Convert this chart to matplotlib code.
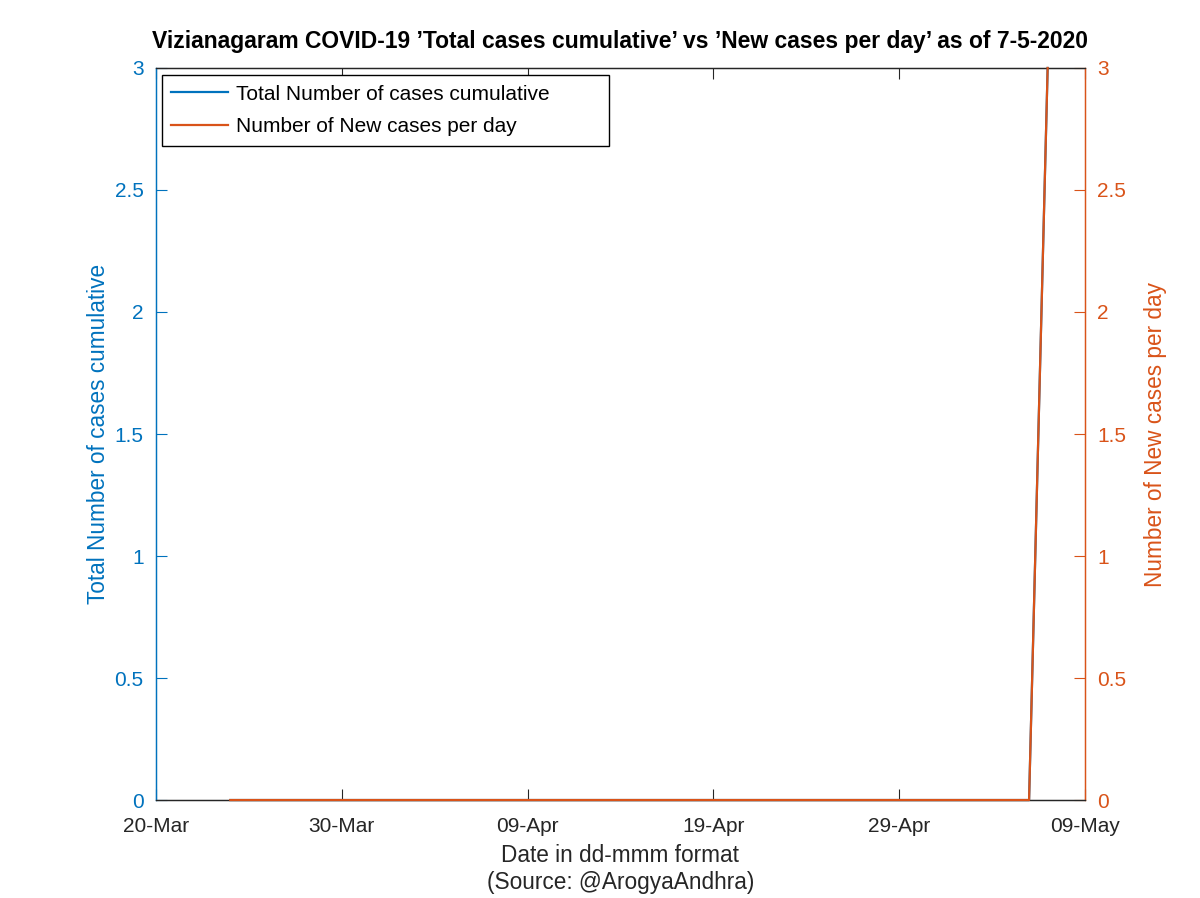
import datetime as dt

import matplotlib
matplotlib.use("Agg")
from matplotlib import pyplot as plt
import matplotlib.dates as mdates

plt.rcParams['font.family'] = ['Liberation Sans', 'DejaVu Sans']

# Data
start = dt.date(2020, 3, 24)
dates = [start + dt.timedelta(days=i) for i in range(45)]  # 24-Mar .. 07-May
new_cases = [0] * 44 + [3]
total_cases = [0] * 44 + [3]

blue = '#0072BD'
orange = '#D95319'
dark = '#262626'

fig = plt.figure(figsize=(12, 8.98), dpi=100)
ax = fig.add_axes([0.13, 0.1091, 0.774, 0.8152])
ax2 = ax.twinx()

l1, = ax.plot(dates, total_cases, color=blue, lw=1.6, clip_on=False, zorder=3)
l2, = ax2.plot(dates, new_cases, color=orange, lw=1.6, clip_on=False, zorder=3)

ax.set_xlim(dt.date(2020, 3, 20), dt.date(2020, 5, 9))
ticks = [dt.date(2020, 3, 20) + dt.timedelta(days=10 * i) for i in range(6)]
ax.set_xticks(ticks)
ax.xaxis.set_major_formatter(mdates.DateFormatter('%d-%b'))

ax.set_ylim(0, 3)
ax2.set_ylim(0, 3)
yt = [0, 0.5, 1, 1.5, 2, 2.5, 3]
ylabels = ['0', '0.5', '1', '1.5', '2', '2.5', '3']
ax.set_yticks(yt)
ax2.set_yticks(yt)
ax.set_yticklabels(ylabels)
ax2.set_yticklabels(ylabels)

fs = 15
ax.tick_params(axis='x', direction='in', top=True, length=8, width=0.8,
               colors=dark, labelsize=fs, pad=12)
ax.tick_params(axis='y', direction='in', length=8, width=0.8,
               colors=blue, labelsize=fs, pad=9)
ax2.tick_params(axis='y', direction='in', length=8, width=0.8,
                colors=orange, labelsize=fs, pad=9)

for a in (ax, ax2):
    a.spines['top'].set_color(dark)
    a.spines['bottom'].set_color(dark)
    a.spines['left'].set_color(blue)
    a.spines['right'].set_color(orange)
    for s in a.spines.values():
        s.set_linewidth(0.9)

ax.set_ylabel('Total Number of cases cumulative', color=blue, fontsize=16.3, labelpad=3)
ax2.set_ylabel('Number of New cases per day', color=orange, fontsize=16.3, labelpad=13)
ax.set_xlabel('Date in dd-mmm format\n(Source: @ArogyaAndhra)', color=dark,
              fontsize=16.3, labelpad=6, linespacing=1.2)
ax.set_title('Vizianagaram COVID-19 ’Total cases cumulative’ vs ’New cases per day’ as of 7-5-2020',
             fontsize=16.5, fontweight='bold', color='black', pad=14.5)

leg = ax2.legend([l1, l2], ['Total Number of cases cumulative', 'Number of New cases per day'],
                 loc='upper left', bbox_to_anchor=(0.0065, 0.99, 0.481, 0), mode='expand',
                 fontsize=fs, frameon=True, fancybox=False, edgecolor='black', framealpha=1,
                 borderpad=0.45, handlelength=2.7, handletextpad=0.4,
                 labelspacing=0.65, borderaxespad=0)
leg.get_frame().set_linewidth(1.0)
for ln in leg.get_lines():
    ln.set_linewidth(1.6)

fig.savefig('out.png', dpi=100)
